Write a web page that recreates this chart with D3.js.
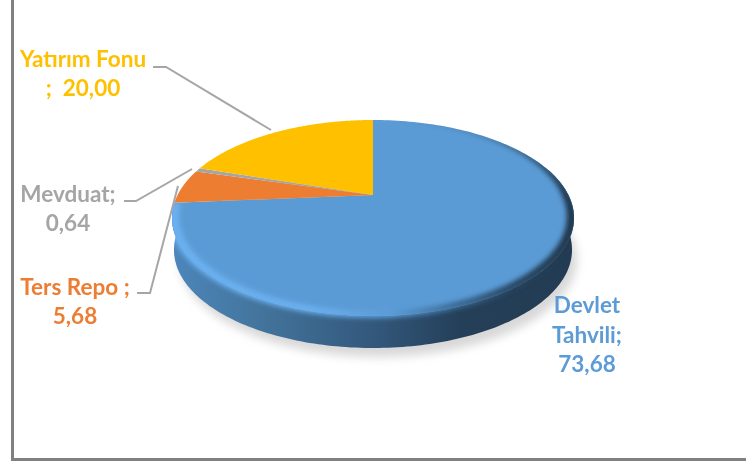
<!DOCTYPE html>
<html>
<head>
<meta charset="utf-8">
<script src="https://cdn.jsdelivr.net/npm/d3@7"></script>
<style>
  html, body { margin: 0; padding: 0; background: #fff; }
  text { font-family: Lato, "Open Sans", sans-serif; font-weight: 700; font-size: 22.5px; }
</style>
</head>
<body>
<div id="wrapper"></div>
<script>
const categories = ["Devlet Tahvili", "Ters Repo", "Mevduat", "Yatırım Fonu"];
const values = [73.68, 5.68, 0.64, 20.00];
const valueLabels = ["73,68", "5,68", "0,64", "20,00"];
const colors = ["#5b9bd5", "#ed7d31", "#a5a5a5", "#ffc000"];

// label text per line, same order as categories
const labelLines = [
    ["Devlet", "Tahvili;", valueLabels[0]],
    ["Ters Repo ;", valueLabels[1]],
    ["Mevduat;", valueLabels[2]],
    ["Yatırım Fonu", ";  " + valueLabels[3]]
];
const labelAnchor = [[587, 313], [75, 295], [68, 202], [83, 67]];
const lineGap = [29.5, 29, 29, 29];
const leaders = [
    null,
    [[137, 293], [150, 293], [178, 186]],
    [[124, 201], [136, 201], [192, 169]],
    [[153, 67], [166, 67], [271, 130]]
];

const width = 746, height = 464;

// perspective disc, fitted to the picture
const cx = 373, cy = 195, radius = 195.4, k = 0.2347, flat = 92.6;
const depth = 32, bottomScale = 0.99;

function project(angle, lower, r) {
    const s = r === undefined ? 1 : r;
    const X = s * Math.sin(angle), Y = s * Math.cos(angle);
    const w = 1 + k * Y;
    const sx = radius * X / w * (lower ? bottomScale : 1);
    return [cx + sx, cy - flat * Y / w + (lower ? depth : 0)];
}

function arcPoints(a0, a1, lower) {
    return d3.range(0, 181).map(i => project(a0 + (a1 - a0) * i / 180, lower));
}

const line = d3.line();
const slices = d3.pie().sort(null)(values);

const svg = d3.select("#wrapper").append("svg")
    .attr("width", width)
    .attr("height", height)
    .style("display", "block");

const defs = svg.append("defs");

function gradient(id, stops) {
    const g = defs.append("linearGradient").attr("id", id)
        .attr("gradientUnits", "userSpaceOnUse")
        .attr("x1", 172).attr("x2", 574).attr("y1", 0).attr("y2", 0);
    stops.forEach(s => g.append("stop").attr("offset", s[0]).attr("stop-color", s[1]));
}
gradient("sideFill", [[0, "#4c86bb"], [0.2, "#44769f"], [0.5, "#33587c"], [0.72, "#243f58"], [1, "#233c53"]]);
gradient("rimFill", [[0, "#6ab0f0"], [0.35, "#6ab0f0"], [0.55, "#5a9bd6"], [0.7, "#3b6a95"], [0.85, "#27445f"], [1, "#1f374c"]]);

defs.append("filter").attr("id", "soft").attr("x", "-20%").attr("y", "-20%").attr("width", "140%").attr("height", "140%")
    .append("feGaussianBlur").attr("stdDeviation", 5);
defs.append("filter").attr("id", "softRim").attr("x", "-20%").attr("y", "-20%").attr("width", "140%").attr("height", "140%")
    .append("feGaussianBlur").attr("stdDeviation", 2.6);
defs.append("filter").attr("id", "softText")
    .append("feGaussianBlur").attr("stdDeviation", 0.35);

// frame
svg.append("path")
    .attr("d", line([[12.5, 0], [12.5, 459.5], [746, 459.5]]))
    .attr("fill", "none")
    .attr("stroke", "#808080")
    .attr("stroke-width", 3);

// shadow under the disc
const whole = arcPoints(0, 2 * Math.PI, true);
svg.append("path")
    .attr("d", line(whole) + "Z")
    .attr("transform", "translate(5,9)")
    .attr("fill", "#d8d8d8")
    .attr("filter", "url(#soft)");

// side wall, only the blue slice shows it
const blue = slices[0];
const sideTop = arcPoints(Math.PI / 2 - 0.3, blue.endAngle, false);
const sideBottom = arcPoints(Math.PI / 2 - 0.3, blue.endAngle, true).reverse();
const sidePath = line(sideTop.concat(sideBottom)) + "Z";
svg.append("path").attr("d", sidePath).attr("fill", "url(#sideFill)");

// top surface
function slicePath(d) {
    return line([[cx, cy]].concat(arcPoints(d.startAngle, d.endAngle, false))) + "Z";
}
svg.selectAll(".slice")
    .data(slices)
    .enter()
    .append("path")
    .attr("class", "slice")
    .attr("d", slicePath)
    .attr("fill", (d, i) => colors[i]);

// bevel along the blue rim, thin at the back and wide round the front
const steps = d3.range(0, 241).map(i => blue.startAngle + (blue.endAngle - blue.startAngle) * i / 240);
const rimOuter = steps.map(a => project(a, false, 1.012));
const rimInner = steps.map(a => project(a, false, 1 - (0.002 + 0.032 * Math.min(1, 1 - Math.cos(a))))).reverse();
const clip = defs.append("clipPath").attr("id", "rimClip");
clip.append("path").attr("d", slicePath(blue));
clip.append("path").attr("d", sidePath);
svg.append("g").attr("clip-path", "url(#rimClip)")
    .append("path")
    .attr("d", line(rimOuter.concat(rimInner)) + "Z")
    .attr("fill", "url(#rimFill)")
    .attr("filter", "url(#softRim)");

// leader lines
svg.selectAll(".leader")
    .data(leaders.filter(d => d))
    .enter()
    .append("path")
    .attr("class", "leader")
    .attr("d", d => line(d))
    .attr("fill", "none")
    .attr("stroke", "#a6a6a6")
    .attr("stroke-width", 2);

// data labels
categories.forEach(function(c, i) {
    const t = svg.append("text")
        .attr("text-anchor", "middle")
        .attr("xml:space", "preserve")
        .attr("fill", colors[i])
        .attr("filter", "url(#softText)");
    labelLines[i].forEach(function(s, j) {
        t.append("tspan")
            .attr("x", labelAnchor[i][0])
            .attr("y", labelAnchor[i][1] + j * lineGap[i])
            .text(s);
    });
});
</script>
</body>
</html>
